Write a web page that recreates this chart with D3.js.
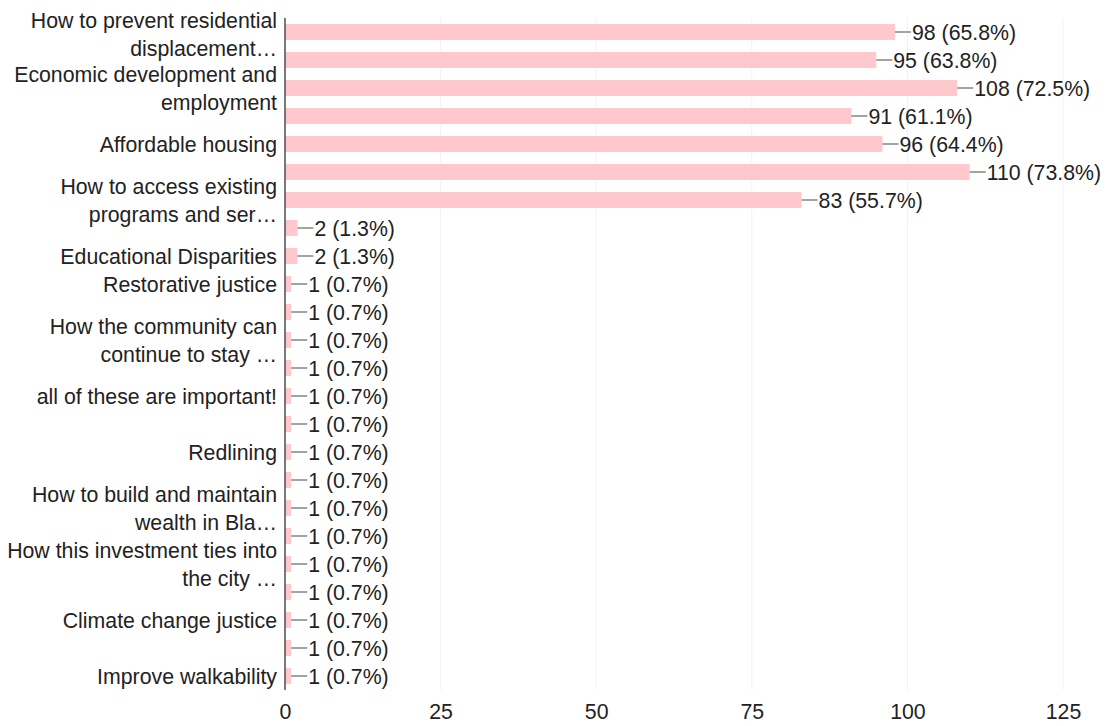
<!DOCTYPE html>
<html>
<head>
<meta charset="utf-8">
<script src="https://cdn.jsdelivr.net/npm/d3@7"></script>
<style>
  html, body { margin: 0; padding: 0; background: #fff; }
  svg { display: block; font-family: "Liberation Sans", Arial, sans-serif; }
</style>
</head>
<body>
<svg id="chart" width="1107" height="726"></svg>
<script>
// Category labels (only the ones shown in the picture; others were hidden)
const categories = [
  "How to prevent residential\ndisplacement…",
  "",
  "Economic development and\nemployment",
  "",
  "Affordable housing",
  "",
  "How to access existing\nprograms and ser…",
  "",
  "Educational Disparities",
  "Restorative justice",
  "",
  "How the community can\ncontinue to stay …",
  "",
  "all of these are important!",
  "",
  "Redlining",
  "",
  "How to build and maintain\nwealth in Bla…",
  "",
  "How this investment ties into\nthe city …",
  "",
  "Climate change justice",
  "",
  "Improve walkability"
];
const values = [98, 95, 108, 91, 96, 110, 83, 2, 2, 1, 1, 1, 1, 1, 1, 1, 1, 1, 1, 1, 1, 1, 1, 1];
const percents = ["65.8%", "63.8%", "72.5%", "61.1%", "64.4%", "73.8%", "55.7%", "1.3%", "1.3%",
  "0.7%", "0.7%", "0.7%", "0.7%", "0.7%", "0.7%", "0.7%", "0.7%", "0.7%", "0.7%", "0.7%", "0.7%", "0.7%", "0.7%", "0.7%"];
const xTicks = [0, 25, 50, 75, 100, 125];

(function () {
const svg = d3.select("#chart");
const mLeft = 285, mRight = 1063, mTop = 18, mBottom = 690;
const fontSize = 21.3;

const x = d3.scaleLinear().domain([0, 125]).range([mLeft, mRight]);
const y = d3.scaleBand().domain(d3.range(values.length)).range([mTop, mBottom])
  .paddingInner(0.43).paddingOuter(0.215);

// faint grid lines
svg.append("g").selectAll("line").data(xTicks.slice(1)).join("line")
  .attr("x1", d => x(d)).attr("x2", d => x(d))
  .attr("y1", mTop).attr("y2", mBottom)
  .attr("stroke", "#f2f2f2").attr("stroke-width", 1);

// bars
svg.append("g").selectAll("rect").data(values).join("rect")
  .attr("x", x(0))
  .attr("y", (d, i) => y(i))
  .attr("width", d => x(d) - x(0))
  .attr("height", y.bandwidth())
  .attr("fill", "#ffc8cc");

// leader lines + value labels
const lab = svg.append("g");
values.forEach((v, i) => {
  const cy = y(i) + y.bandwidth() / 2;
  const xe = x(v);
  lab.append("line")
    .attr("x1", xe).attr("x2", xe + 16)
    .attr("y1", cy).attr("y2", cy)
    .attr("stroke", "#666").attr("stroke-width", 1.2);
  lab.append("text")
    .attr("x", xe + 17).attr("y", cy)
    .attr("dy", "0.36em")
    .attr("font-size", fontSize)
    .attr("fill", "#222")
    .text(`${v} (${percents[i]})`);
});

// y axis line
svg.append("line")
  .attr("x1", mLeft).attr("x2", mLeft)
  .attr("y1", mTop).attr("y2", mBottom)
  .attr("stroke", "#333").attr("stroke-width", 1.3);

// category labels
const cl = svg.append("g");
categories.forEach((c, i) => {
  if (!c) return;
  const lines = c.split("\n");
  const cy = y(i) + y.bandwidth() / 2 + (i === 0 ? 2 : 0);
  const lh = 28;
  const t = cl.append("text")
    .attr("text-anchor", "end")
    .attr("font-size", fontSize)
    .attr("fill", "#222");
  lines.forEach((ln, k) => {
    t.append("tspan")
      .attr("x", mLeft - 8)
      .attr("y", cy + (k - (lines.length - 1) / 2) * lh)
      .attr("dy", "0.36em")
      .text(ln);
  });
});

// x axis tick labels
const xAxis = d3.axisBottom(x).tickValues(xTicks).tickSize(0).tickPadding(0);
const gx = svg.append("g").attr("transform", `translate(0, ${mBottom + 14})`).call(xAxis);
gx.select(".domain").remove();
gx.selectAll("text")
  .attr("font-size", fontSize)
  .attr("font-family", "Liberation Sans, Arial, sans-serif")
  .attr("fill", "#222");
})();
</script>
</body>
</html>
